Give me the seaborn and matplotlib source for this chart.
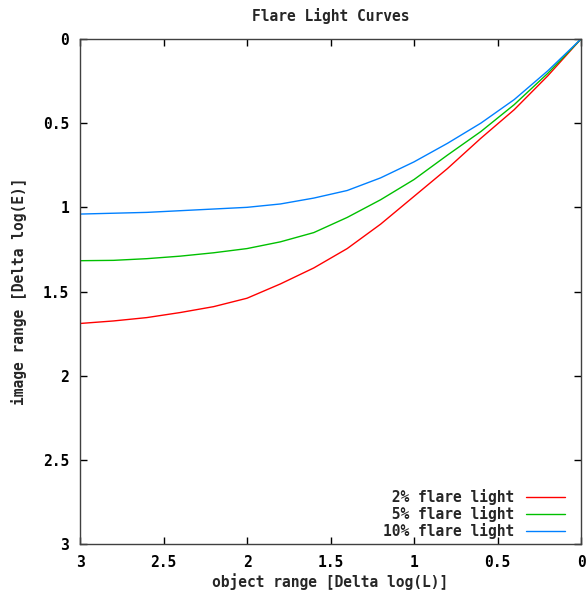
import matplotlib
matplotlib.use("Agg")
import matplotlib.pyplot as plt
from matplotlib.ticker import FuncFormatter
import seaborn as sns
import pandas as pd

# object range (Delta log L)
log_l = [3.0, 2.8, 2.6, 2.4, 2.2, 2.0, 1.8, 1.6, 1.4, 1.2, 1.0, 0.8, 0.6, 0.4, 0.2, 0.0]
# image range (Delta log E) for each flare level
flare_2 = [1.69, 1.675, 1.655, 1.625, 1.59, 1.54, 1.455, 1.36, 1.245, 1.10, 0.935, 0.77, 0.59, 0.42, 0.22, 0.0]
flare_5 = [1.317, 1.315, 1.305, 1.29, 1.27, 1.245, 1.205, 1.15, 1.06, 0.955, 0.835, 0.69, 0.55, 0.39, 0.205, 0.0]
flare_10 = [1.04, 1.035, 1.03, 1.02, 1.01, 1.0, 0.98, 0.945, 0.9, 0.825, 0.73, 0.62, 0.50, 0.36, 0.19, 0.0]
labels = [" 2% flare light", " 5% flare light", "10% flare light"]
colors = ["#ff0000", "#00c000", "#0080ff"]

df = pd.concat([
    pd.DataFrame({"x": log_l, "y": vals, "curve": lab})
    for lab, vals in zip(labels, [flare_2, flare_5, flare_10])
], ignore_index=True)

sns.set_style("white")
plt.rcParams['font.family'] = ['DejaVu Sans Mono']
plt.rcParams['font.weight'] = 'bold'
FS = 10.5

fig = plt.figure(figsize=(5.88, 5.94), dpi=100)
ax = fig.add_axes([80 / 588, 1 - 544 / 594, 501 / 588, 505 / 594])

sns.lineplot(data=df, x="x", y="y", hue="curve", palette=colors, linewidth=1.0,
             ax=ax, sort=False, estimator=None)

ax.set_xlim(3, 0)
ax.set_ylim(3, 0)
ax.set_xticks([3, 2.5, 2, 1.5, 1, 0.5, 0])
ax.set_yticks([0, 0.5, 1, 1.5, 2, 2.5, 3])
fmt = FuncFormatter(lambda v, p: "%g" % v)
ax.xaxis.set_major_formatter(fmt)
ax.yaxis.set_major_formatter(fmt)
ax.tick_params(direction="in", length=5, width=1, top=True, right=True,
               bottom=True, left=True, labelsize=FS, pad=8, colors="black")
for s in ax.spines.values():
    s.set_color("#404040")
    s.set_linewidth(1)

ax.set_xlabel("object range [Delta log(L)]", fontsize=FS, fontweight="bold", labelpad=2)
ax.set_ylabel("image range [Delta log(E)]", fontsize=FS, fontweight="bold", labelpad=11)
ax.set_title("Flare Light Curves", fontsize=FS, fontweight="bold", pad=13)

leg = ax.legend(loc="lower right", bbox_to_anchor=(1 - 7 / 501, -4 / 505), frameon=False,
                markerfirst=False, handlelength=2.7, handletextpad=0.8,
                labelspacing=0.08, borderaxespad=0.2,
                prop={"family": "DejaVu Sans Mono", "weight": "bold", "size": FS})

fig.savefig("out.png", dpi=100, facecolor="white")
